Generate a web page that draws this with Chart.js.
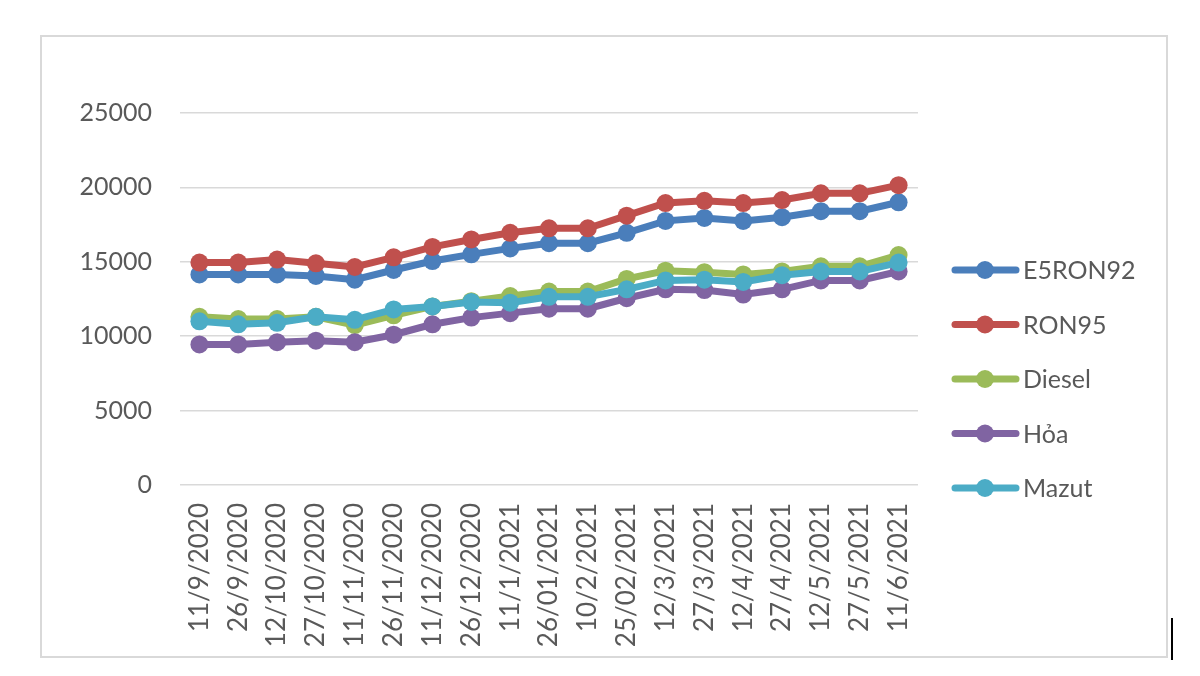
<!DOCTYPE html>
<html>
<head>
<meta charset="utf-8">
<script src="https://cdn.jsdelivr.net/npm/chart.js@4/dist/chart.umd.min.js"></script>
<style>
  html, body { margin: 0; padding: 0; background: #fff; }
  #wrap { position: relative; width: 1200px; height: 676px; }
  #frame { position: absolute; left: 40px; top: 35px; width: 1128px; height: 623px;
           border: 2px solid #d9d9d9; box-sizing: border-box; pointer-events: none; }
  #caret { position: absolute; left: 1171px; top: 618px; width: 2px; height: 42px; background: #000; }
  canvas { position: absolute; left: 0; top: 0; }
</style>
</head>
<body>
<div id="wrap">
  <canvas id="fuelChart" width="1200" height="676"></canvas>
  <div id="frame"></div>
  <div id="caret"></div>
</div>
<script>
// data
const dates = ['11/9/2020', '26/9/2020', '12/10/2020', '27/10/2020', '11/11/2020', '26/11/2020',
  '11/12/2020', '26/12/2020', '11/1/2021', '26/01/2021', '10/2/2021', '25/02/2021',
  '12/3/2021', '27/3/2021', '12/4/2021', '27/4/2021', '12/5/2021', '27/5/2021', '11/6/2021'];

const e5ron92 = [14150, 14150, 14150, 14050, 13800, 14450, 15050, 15500, 15900, 16250,
  16250, 16950, 17750, 17950, 17750, 18000, 18400, 18400, 19000];
const ron95 = [14950, 14950, 15150, 14900, 14650, 15300, 16000, 16500, 16950, 17250,
  17250, 18100, 18950, 19100, 18950, 19150, 19600, 19600, 20150];
const diesel = [11300, 11150, 11150, 11300, 10750, 11400, 12000, 12350, 12700, 13000,
  13000, 13850, 14400, 14300, 14150, 14350, 14700, 14700, 15450];
const hoa = [9450, 9450, 9600, 9700, 9600, 10100, 10800, 11250, 11550, 11850,
  11850, 12550, 13150, 13100, 12800, 13150, 13750, 13750, 14350];
const mazut = [11000, 10800, 10900, 11300, 11100, 11800, 12000, 12300, 12250, 12650,
  12650, 13150, 13750, 13800, 13650, 14100, 14350, 14350, 14950];

const seriesNames = ['E5RON92', 'RON95', 'Diesel', 'Hỏa', 'Mazut'];
const yTicks = [0, 5000, 10000, 15000, 20000, 25000];

const colors = ['#4a7ebb', '#c0504d', '#9bbb59', '#8064a2', '#4bacc6'];
const textColor = '#595959';
const fontFamily = 'Lato, "Open Sans", sans-serif';

const seriesData = [e5ron92, ron95, diesel, hoa, mazut];

const datasets = seriesData.map((vals, i) => ({
  label: seriesNames[i],
  data: vals,
  borderColor: colors[i],
  backgroundColor: colors[i],
  pointBackgroundColor: colors[i],
  pointBorderWidth: 0,
  pointRadius: 9,
  borderWidth: 7,
  tension: 0,
  // later series drawn on top, like the original
  order: seriesData.length - i
}));

// legend on the right: line with a dot, then the name
const sideLegend = {
  id: 'sideLegend',
  afterDraw(chart) {
    const ctx = chart.ctx;
    ctx.save();
    chart.data.datasets.forEach((ds, i) => {
      const y = 270 + i * 54.5;
      ctx.strokeStyle = ds.borderColor;
      ctx.lineWidth = 7;
      ctx.lineCap = 'round';
      ctx.beginPath();
      ctx.moveTo(955, y);
      ctx.lineTo(1016, y);
      ctx.stroke();
      ctx.fillStyle = ds.borderColor;
      ctx.beginPath();
      ctx.arc(985, y, 9, 0, Math.PI * 2);
      ctx.fill();
      ctx.fillStyle = textColor;
      ctx.font = '25px ' + fontFamily;
      ctx.textBaseline = 'middle';
      ctx.textAlign = 'left';
      ctx.fillText(ds.label, 1023, y + 1);
    });
    ctx.restore();
  }
};

const ctx = document.getElementById('fuelChart').getContext('2d');
new Chart(ctx, {
  type: 'line',
  data: { labels: dates, datasets: datasets },
  options: {
    responsive: false,
    animation: false,
    devicePixelRatio: 1,
    layout: { padding: { left: 40, top: 113, right: 282, bottom: 18 } },
    plugins: {
      legend: { display: false },
      tooltip: { enabled: false }
    },
    scales: {
      x: {
        offset: true,
        grid: { display: false, drawTicks: false },
        border: { display: false },
        ticks: {
          autoSkip: false,
          minRotation: 90,
          maxRotation: 90,
          padding: 18,
          color: textColor,
          font: { family: fontFamily, size: 26 }
        },
        afterFit: s => { s.height = 173; }
      },
      y: {
        min: 0,
        max: 25000,
        afterBuildTicks: s => { s.ticks = yTicks.map(v => ({ value: v })); },
        grid: { color: '#d9d9d9', lineWidth: 1.5, drawTicks: false },
        border: { display: false },
        ticks: {
          padding: 28,
          color: textColor,
          font: { family: fontFamily, size: 25 },
          callback: v => String(v)
        },
        afterFit: s => { s.width = 140; }
      }
    }
  },
  plugins: [sideLegend]
});
</script>
</body>
</html>
